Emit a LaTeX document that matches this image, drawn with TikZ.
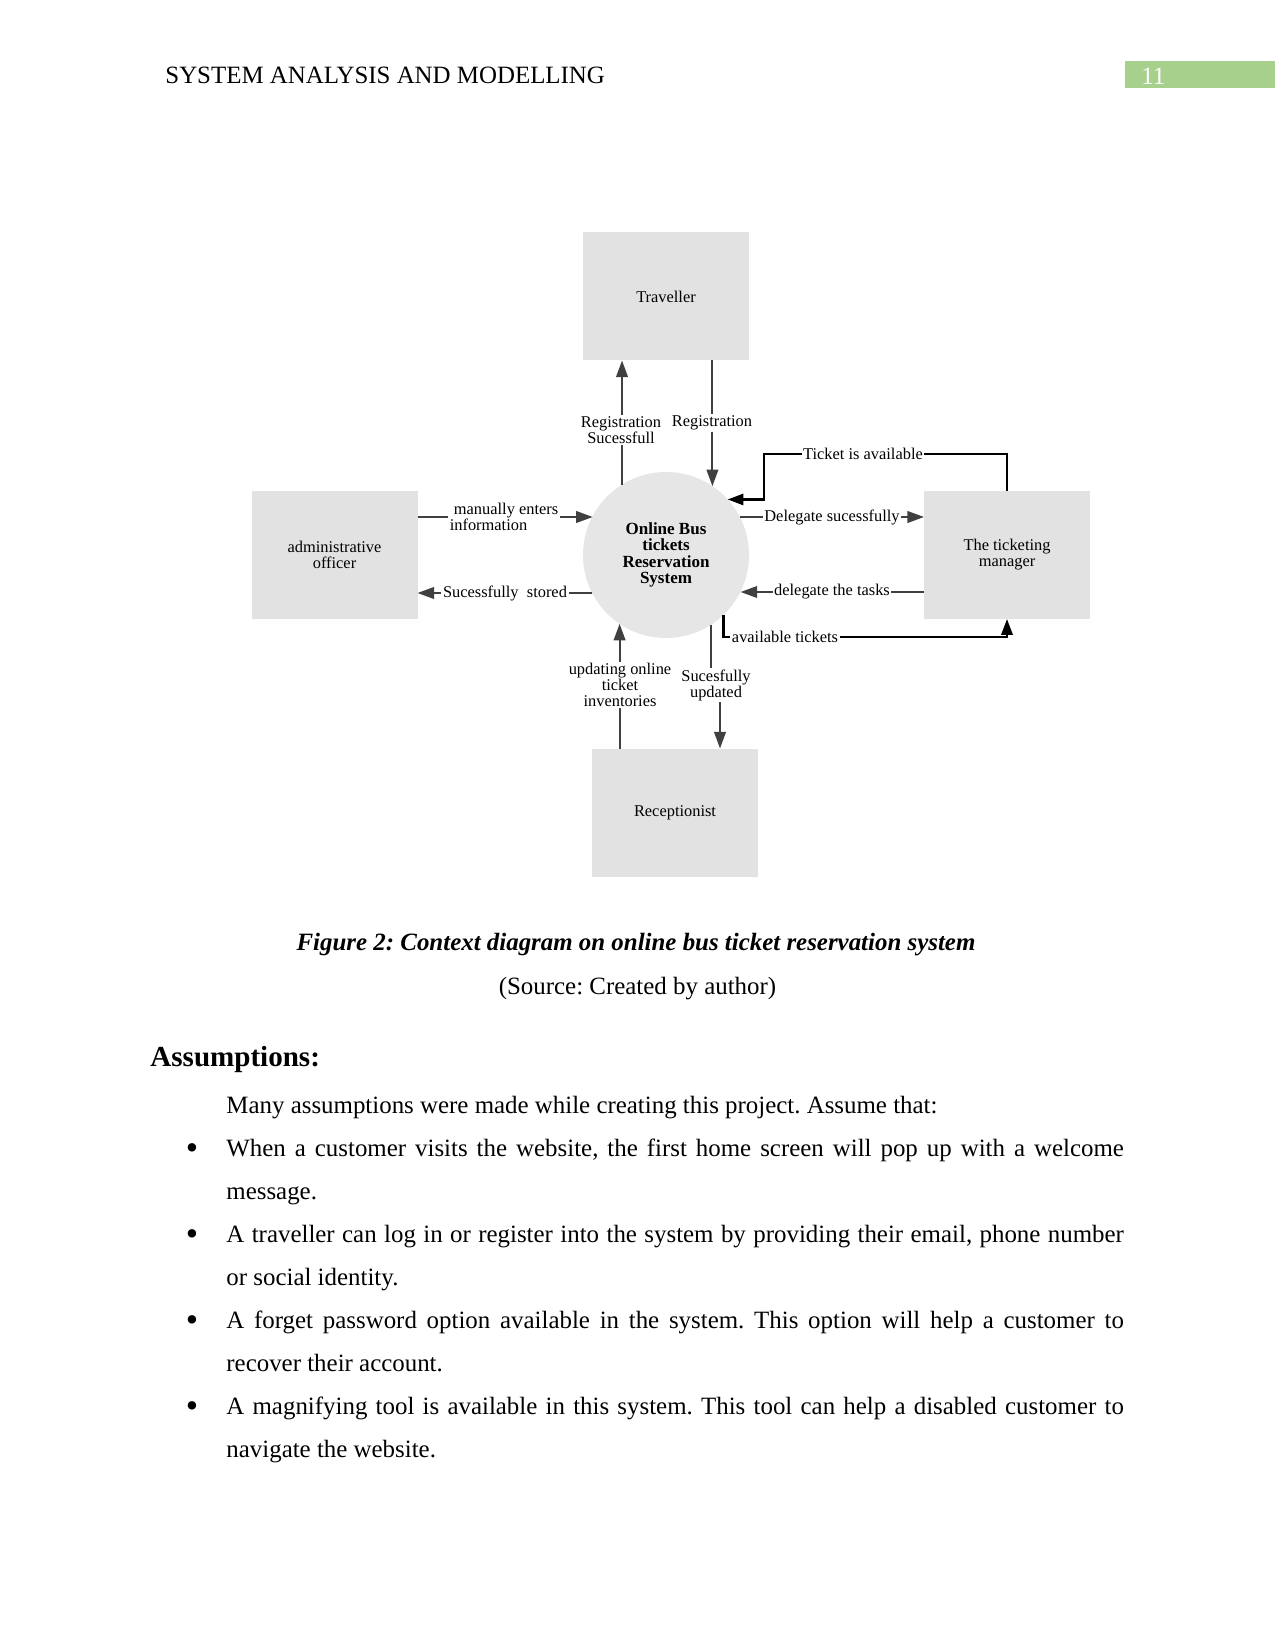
\documentclass[tikz,border=0pt]{standalone}
\usepackage{fontspec}
\setmainfont{Liberation Serif}
\usetikzlibrary{arrows.meta,calc}
\definecolor{boxgray}{RGB}{226,226,226}
\definecolor{circgray}{RGB}{230,230,230}
\definecolor{linegray}{RGB}{64,64,64}
\definecolor{hdrgreen}{RGB}{168,208,141}
\newcommand\dfont{\fontsize{7.9}{7.7}\selectfont}
\newcommand\bodyfont{\fontsize{12}{14}\selectfont}
\frenchspacing
\begin{document}
\begin{tikzpicture}[x=0.4818pt,y=-0.4818pt,
  entity/.style={fill=boxgray, draw=none, minimum width=166*0.4818pt, minimum height=128*0.4818pt, inner sep=0pt, outer sep=0pt, font=\dfont, align=center},
  proc/.style={circle, fill=circgray, draw=none, minimum size=166*0.4818pt, inner sep=0pt, outer sep=0pt, font=\fontsize{8.2}{7.8}\selectfont\bfseries, align=center},
  lbl/.style={fill=white, inner sep=0.6pt, font=\dfont, align=center},
  ln/.style={draw=linegray, line width=2*0.4818pt},
  flow/.style={ln, -{Triangle[length=8pt,width=5.6pt]}},
  blkln/.style={draw=black, line width=2.4*0.4818pt},
  blkflow/.style={blkln, -{Triangle[length=7.6pt,width=5.4pt]}},
  txt/.style={anchor=base west, inner sep=0pt, font=\bodyfont\frenchspacing},
  bul/.style={anchor=base, inner sep=0pt, font=\fontsize{17}{18}\selectfont}]
\fill[white] (0,0) rectangle (1275,1651);
\useasboundingbox (0,0) rectangle (1275,1651);

% header
\node[txt] (hdr) at (165,84) {SYSTEM ANALYSIS AND MODELLING};
\fill[hdrgreen] (1125,61) rectangle (1275,88);
\node[txt, text=white] (pg) at (1141,85) {11};

% entities
\node[entity] (trav) at (666,296.5) {Traveller};
\node[entity] (admin) at (334.5,555) {administrative\\officer};
\node[entity] (tm) at (1007,555) {The ticketing\\manager};
\node[entity] (rec) at (675,812.5) {Receptionist};
\node[proc] (circ) at (666,555) {Online Bus\\tickets\\Reservation\\System};

% labels
\node[lbl] (lrs) at (621,430) {Registration\\Sucessfull};
\node[lbl] (lr) at (712,423) {Registration};
\node[lbl] (lta) at (863,454) {Ticket is available};
\node[lbl] (ldel) at (832,517) {Delegate sucessfully};
\node[lbl] (ldt) at (832,592) {delegate the tasks};
\node[lbl] (lat) at (785,637) {available tickets};
\node[lbl, align=left] (lme) at (504,517) {\ manually enters\\information};
\node[lbl] (lss) at (505,593) {Sucessfully\ \ stored};
\node[lbl] (luo) at (620,685) {updating online\\ticket\\inventories};
\node[lbl] (lsu) at (716,685) {Sucesfully\\updated};
\coordinate (sux) at (720,0);

% Traveller flows
\draw[ln] (circ.122.7) -- (circ.122.7 |- lrs.south);
\draw[flow] (circ.122.7 |- lrs.north) -- (circ.122.7 |- trav.south);
\draw[ln] (circ.56.3 |- trav.south) -- (circ.56.3 |- lr.north);
\draw[flow] (circ.56.3 |- lr.south) -- (circ.56.3);

% ticketing manager flows
\draw[blkln] (tm.north) |- (lta.east);
\coordinate (ta1) at (764,454);
\draw[blkflow] (lta.west) -- (ta1) |- (circ.42.4);
\draw[ln] (circ.27.2 |- ldel.west) -- (ldel.west);
\draw[flow] (ldel.east) -- (tm.west |- ldel.east);
\draw[ln] (tm.west |- ldt.east) -- (ldt.east);
\draw[flow] (ldt.west) -- (circ.-26.5 |- ldt.west);
\draw[blkln] (circ.-46.6) |- (lat.west);
\draw[blkflow] (lat.east) -| (tm.south);

% admin flows
\draw[ln] (admin.east |- lme.west) -- (lme.west);
\draw[flow] (lme.east) -- (circ.152.8 |- lme.east);
\draw[ln] (circ.207.2 |- lss.east) -- (lss.east);
\draw[flow] (lss.west) -- (admin.east |- lss.west);

% receptionist flows
\draw[ln] (circ.236.3 |- rec.north) -- (circ.236.3 |- luo.south);
\draw[flow] (circ.236.3 |- luo.north) -- (circ.236.3);
\draw[ln] (circ.-57.1) -- (circ.-57.1 |- lsu.north);
\draw[flow] (sux |- lsu.south) -- (sux |- rec.north);

% caption
\node[anchor=base, inner sep=0pt, font=\bodyfont\bfseries\itshape] (cap) at (636,950) {Figure 2: Context diagram on online bus ticket reservation system};
\node[anchor=base, inner sep=0pt, font=\bodyfont] (src) at (637.5,994) {(Source: Created by author)};

% assumptions
\node[anchor=base west, inner sep=0pt, font=\fontsize{14}{16}\selectfont\bfseries] (ass) at (150,1066) {Assumptions:};
\node[txt] (t0) at (226,1113) {Many assumptions were made while creating this project. Assume that:};
\node[bul] (b1) at (192,1159) {•};
\node[txt] (t1) at (226,1156) {\makebox[432.4pt][s]{When a customer visits the website, the first home screen will pop up with a welcome}};
\node[txt] (t2) at (226,1199) {message.};
\node[bul] (b2) at (192,1245) {•};
\node[txt] (t3) at (226,1242) {\makebox[432.4pt][s]{A traveller can log in or register into the system by providing their email, phone number}};
\node[txt] (t4) at (226,1285) {or social identity.};
\node[bul] (b3) at (192,1331) {•};
\node[txt] (t5) at (226,1328) {\makebox[432.4pt][s]{A forget password option available in the system. This option will help a customer to}};
\node[txt] (t6) at (226,1371) {recover their account.};
\node[bul] (b4) at (192,1417) {•};
\node[txt] (t7) at (226,1414) {\makebox[432.4pt][s]{A magnifying tool is available in this system. This tool can help a disabled customer to}};
\node[txt] (t8) at (226,1457) {navigate the website.};
\end{tikzpicture}
\end{document}
